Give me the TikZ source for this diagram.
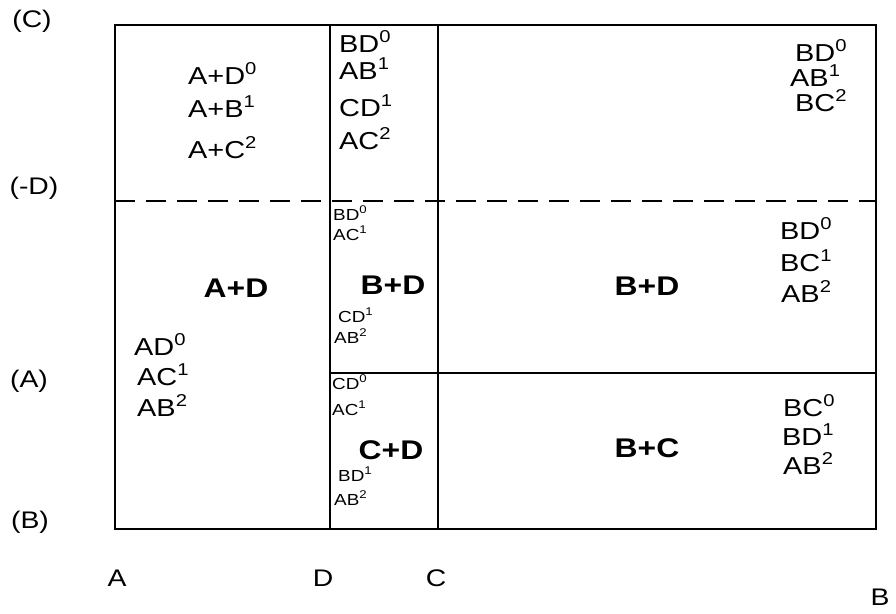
\documentclass[tikz,border=0pt]{standalone}
\usepackage{fontspec}
\setmainfont{Liberation Sans}[FakeStretch=1.18]
\usetikzlibrary{positioning}

\begin{document}
\begin{tikzpicture}[
    x=1pt, y=-1pt,
    frame/.style={line width=1.9pt},
    split/.style={line width=1.9pt, dash pattern=on 20pt off 11pt},
    entry/.style={font=\fontsize{24.5}{28}\selectfont, inner sep=0pt, anchor=base west},
    tiny/.style={font=\fontsize{16}{19}\selectfont, inner sep=0pt, anchor=base west},
    zone/.style={font=\fontsize{27}{31}\selectfont\bfseries, inner sep=0pt, anchor=base},
    axis/.style={font=\fontsize{24}{28}\selectfont, inner sep=0pt}
]
  \useasboundingbox (0,0) rectangle (896,613);

  % Cells
  \draw[frame] (115,25) rectangle (876,529);
  \draw[frame] (330,25) -- (330,529);
  \draw[frame] (438,25) -- (438,529);
  \draw[frame] (330,373) -- (876,373);
  \draw[split] (115,201) -- (876,201);

  % Left axis
  \node[axis] (yc) at (32,21) {(C)};
  \node[axis] (yd) at (34,188) {(-D)};
  \node[axis] (ya) at (29,381) {(A)};
  \node[axis] (yb) at (30,522) {(B)};

  % Bottom axis
  \node[axis] (xa) at (117,578) {A};
  \node[axis] (xd) at (323,578) {D};
  \node[axis] (xc) at (436,578) {C};
  \node[axis] (xb) at (880,597) {B};

  % Top row
  \node[entry] (tl0) at (188,84)  {A+D\textsuperscript{0}};
  \node[entry] (tl1) at (188,117) {A+B\textsuperscript{1}};
  \node[entry] (tl2) at (188,158) {A+C\textsuperscript{2}};

  \node[entry] (tm0) at (339,52)  {BD\textsuperscript{0}};
  \node[entry] (tm1) at (339,79)  {AB\textsuperscript{1}};
  \node[entry] (tm2) at (339,116) {CD\textsuperscript{1}};
  \node[entry] (tm3) at (339,149) {AC\textsuperscript{2}};

  \node[entry] (tr0) at (795,61)  {BD\textsuperscript{0}};
  \node[entry] (tr1) at (790,86)  {AB\textsuperscript{1}};
  \node[entry] (tr2) at (795,111) {BC\textsuperscript{2}};

  % Left block
  \node[zone] (ad) at (236,297) {A+D};
  \node[entry] (lb0) at (134,355) {AD\textsuperscript{0}};
  \node[entry] (lb1) at (137,385) {AC\textsuperscript{1}};
  \node[entry] (lb2) at (137,416) {AB\textsuperscript{2}};

  % Narrow column, middle
  \node[tiny] (mm0) at (333,220) {BD\textsuperscript{0}};
  \node[tiny] (mm1) at (333,240) {AC\textsuperscript{1}};
  \node[zone] (mbd) at (393,294) {B+D};
  \node[tiny] (mm2) at (338,322) {CD\textsuperscript{1}};
  \node[tiny] (mm3) at (334,343) {AB\textsuperscript{2}};

  % Narrow column, bottom
  \node[tiny] (mb0) at (332,389) {CD\textsuperscript{0}};
  \node[tiny] (mb1) at (332,415) {AC\textsuperscript{1}};
  \node[zone] (mcd) at (391,459) {C+D};
  \node[tiny] (mb2) at (338,481) {BD\textsuperscript{1}};
  \node[tiny] (mb3) at (334,505) {AB\textsuperscript{2}};

  % Right block, middle
  \node[zone] (rbd) at (647,295) {B+D};
  \node[entry] (rm0) at (780,239) {BD\textsuperscript{0}};
  \node[entry] (rm1) at (780,271) {BC\textsuperscript{1}};
  \node[entry] (rm2) at (781,302) {AB\textsuperscript{2}};

  % Right block, bottom
  \node[zone] (rbc) at (647,457) {B+C};
  \node[entry] (rb0) at (783,416) {BC\textsuperscript{0}};
  \node[entry] (rb1) at (782,445) {BD\textsuperscript{1}};
  \node[entry] (rb2) at (783,474) {AB\textsuperscript{2}};
\end{tikzpicture}
\end{document}
